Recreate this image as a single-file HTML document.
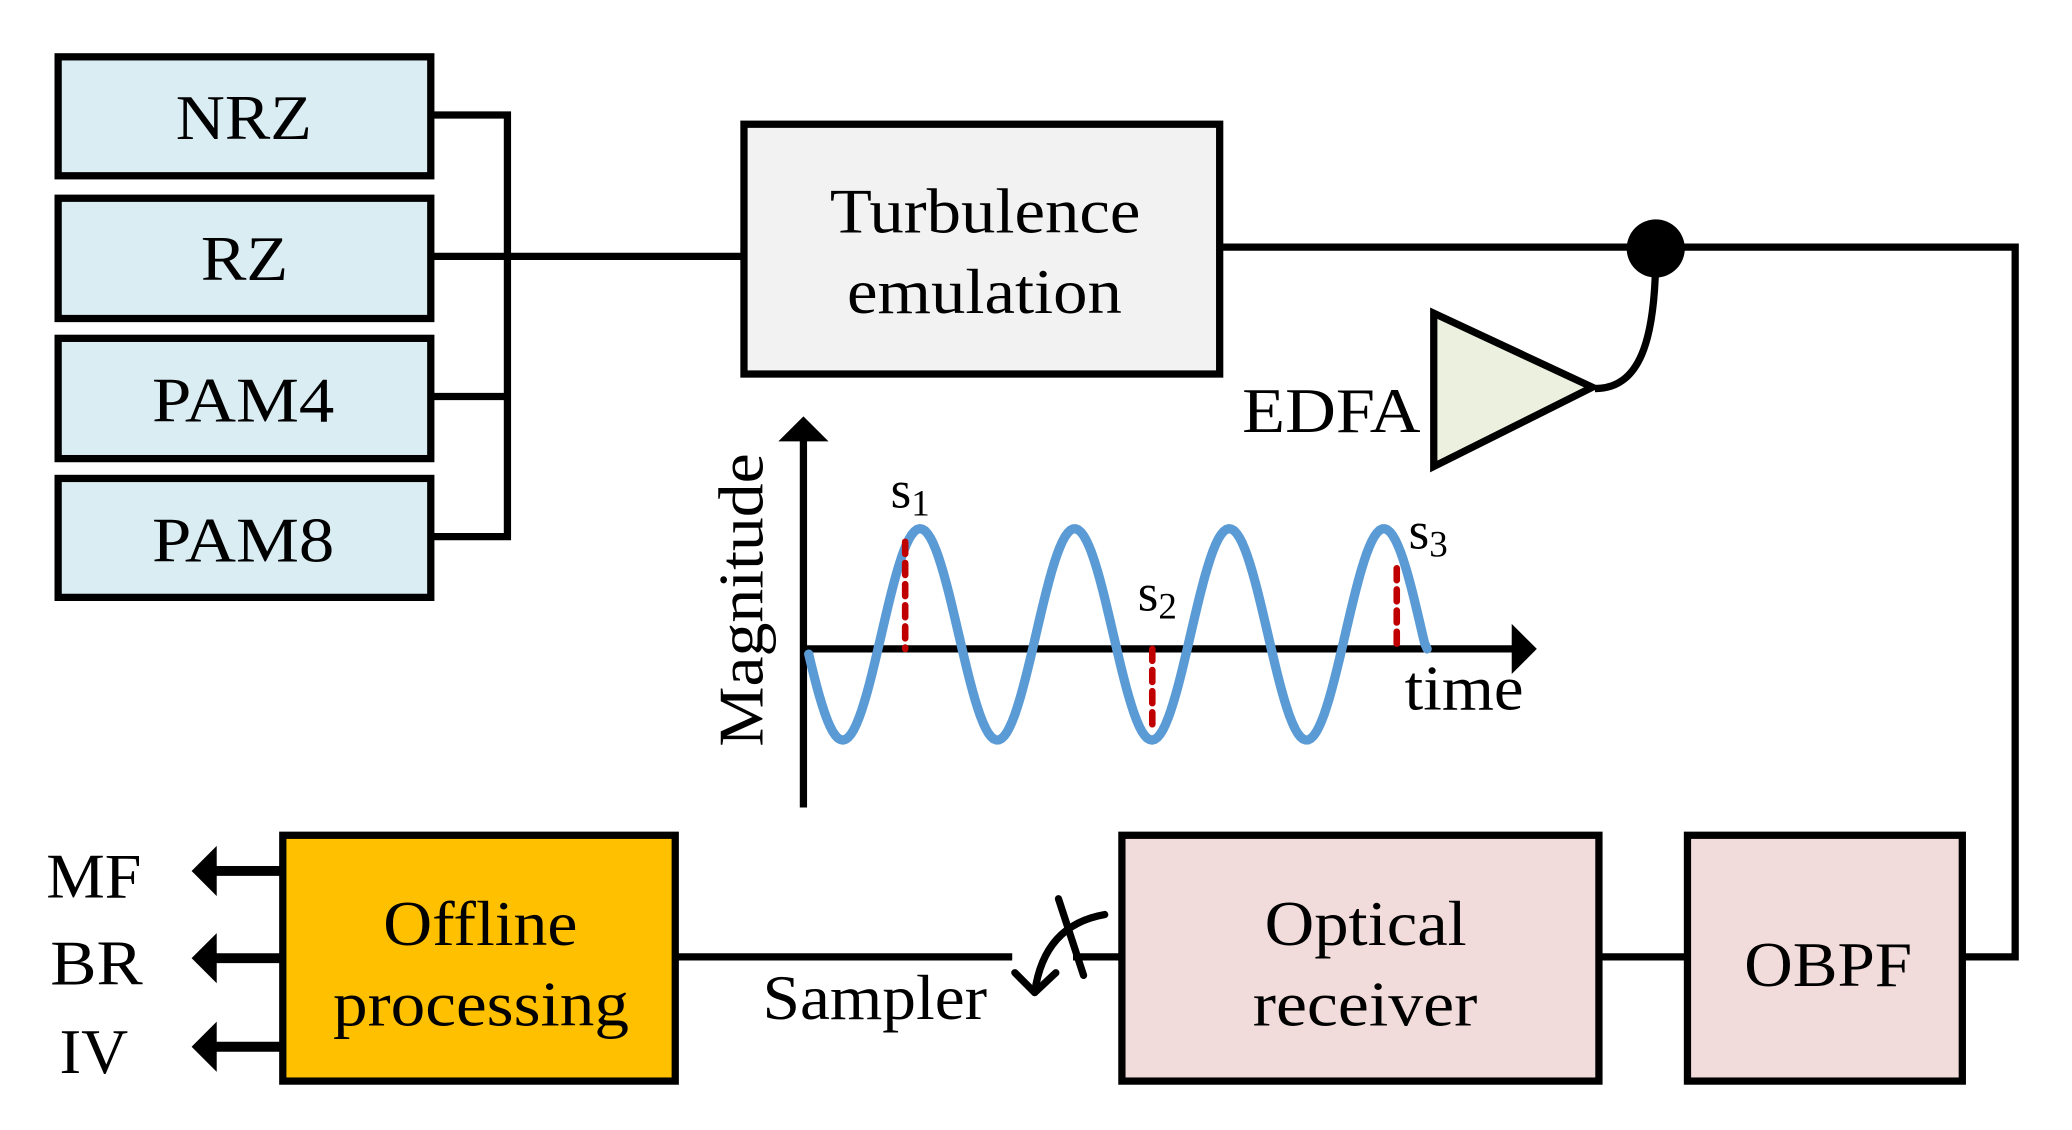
<!DOCTYPE html>
<html><head><meta charset="utf-8"><style>
html,body{margin:0;padding:0;background:#fff;width:2072px;height:1130px;overflow:hidden}
svg{display:block}
text{font-family:"Liberation Serif","Times New Roman",Times,serif;fill:#000}
</style></head><body>
<svg width="2072" height="1130" viewBox="0 0 1568 855" preserveAspectRatio="none" xmlns="http://www.w3.org/2000/svg">
<g stroke="#000" stroke-width="5.5" fill="#daedf3">
<rect x="44" y="43" width="282" height="90"/>
<rect x="44" y="150" width="282" height="91"/>
<rect x="44" y="256" width="282" height="91"/>
<rect x="44" y="362" width="282" height="90"/>
<rect x="563" y="94" width="360" height="189" fill="#f2f2f2"/>
<rect x="214" y="632" width="297" height="186" fill="#ffc000"/>
<rect x="849" y="632" width="361" height="186" fill="#f2dcdb"/>
<rect x="1277" y="632" width="208" height="186" fill="#f2dcdb"/>
<polygon points="1085,237 1085,353 1205,293" fill="#ebf1de"/>
</g>
<g stroke="#000" stroke-width="5.5" fill="none">
<polyline points="326,87 384,87 384,406 326,406"/>
<line x1="326" y1="300" x2="384" y2="300"/>
<line x1="326" y1="194" x2="563" y2="194"/>
<polyline points="923,187 1525,187 1525,724 1485,724"/>
<line x1="1210" y1="724" x2="1277" y2="724"/>
<line x1="511" y1="724" x2="766" y2="724"/>
<line x1="812" y1="724" x2="849" y2="724"/>
<line x1="801" y1="680" x2="820" y2="738" stroke-linecap="round"/>
<path d="M836,692 Q790,700 783,751" stroke-linecap="round"/>
<polyline points="768,736 783,751 799,736" stroke-linecap="round" stroke-linejoin="round"/>
<path d="M1253,190 C1253,260 1240,294 1207,294"/>
<line x1="608" y1="330" x2="608" y2="611"/>
<line x1="608" y1="491" x2="1148" y2="491"/>
</g>
<circle cx="1253" cy="188" r="22" fill="#000"/>
<polygon points="608,315 589,334 627,334" fill="#000"/>
<polygon points="1163,491 1144,472 1144,510" fill="#000"/>
<g stroke="#000" stroke-width="7.5"><line x1="214" y1="659" x2="160" y2="659"/><line x1="214" y1="725" x2="160" y2="725"/><line x1="214" y1="792" x2="160" y2="792"/></g>
<g fill="#000"><polygon points="145,659 164,640 164,678"/><polygon points="145,725 164,706 164,744"/><polygon points="145,792 164,773 164,811"/></g>
<polyline id="wave" fill="none" stroke="#5b9bd5" stroke-width="7" stroke-linejoin="round" stroke-linecap="round" points=""/>
<g stroke="#c00000" stroke-width="5" stroke-dasharray="9,7" stroke-linecap="round">
<line x1="685" y1="410" x2="685" y2="491"/>
<line x1="872" y1="491" x2="872" y2="553"/>
<line x1="1057" y1="430" x2="1057" y2="491"/>
</g>
<g font-size="48" text-anchor="start">
<text x="133" y="105" textLength="103" lengthAdjust="spacingAndGlyphs">NRZ</text>
<text x="152" y="212" textLength="66" lengthAdjust="spacingAndGlyphs">RZ</text>
<text x="115" y="319" textLength="138" lengthAdjust="spacingAndGlyphs">PAM4</text>
<text x="115" y="425" textLength="138" lengthAdjust="spacingAndGlyphs">PAM8</text>
<text x="628" y="176" textLength="235" lengthAdjust="spacingAndGlyphs">Turbulence</text>
<text x="641" y="237" textLength="208" lengthAdjust="spacingAndGlyphs">emulation</text>
<text x="940" y="327" textLength="135" lengthAdjust="spacingAndGlyphs">EDFA</text>
<text x="1063" y="537" textLength="90" lengthAdjust="spacingAndGlyphs">time</text>
<text x="577" y="771" textLength="170" lengthAdjust="spacingAndGlyphs">Sampler</text>
<text x="290" y="715" textLength="147" lengthAdjust="spacingAndGlyphs">Offline</text>
<text x="252" y="776" textLength="224" lengthAdjust="spacingAndGlyphs">processing</text>
<text x="957" y="715" textLength="153" lengthAdjust="spacingAndGlyphs">Optical</text>
<text x="948" y="776" textLength="170" lengthAdjust="spacingAndGlyphs">receiver</text>
<text x="1320" y="746" textLength="127" lengthAdjust="spacingAndGlyphs">OBPF</text>
<text x="35" y="679" textLength="72" lengthAdjust="spacingAndGlyphs">MF</text>
<text x="38" y="745" textLength="70" lengthAdjust="spacingAndGlyphs">BR</text>
<text x="45" y="812" textLength="52" lengthAdjust="spacingAndGlyphs">IV</text>
<text transform="translate(577,565) rotate(-90)" textLength="222" lengthAdjust="spacingAndGlyphs">Magnitude</text>
</g>
<g font-size="40">
<text x="674" y="384">s<tspan font-size="28" dy="6">1</tspan></text>
<text x="861" y="462">s<tspan font-size="28" dy="6">2</tspan></text>
<text x="1066" y="415">s<tspan font-size="28" dy="6">3</tspan></text>
</g>
<script>
var p=[];for(var x=612;x<=1080;x+=2){var y=480-80*Math.sin(2*Math.PI*(x-667)/117);if(y>491&&x>1060)y=491;p.push(x+","+y.toFixed(1));}
document.getElementById("wave").setAttribute("points",p.join(" "));
</script>
</svg>
</body></html>
